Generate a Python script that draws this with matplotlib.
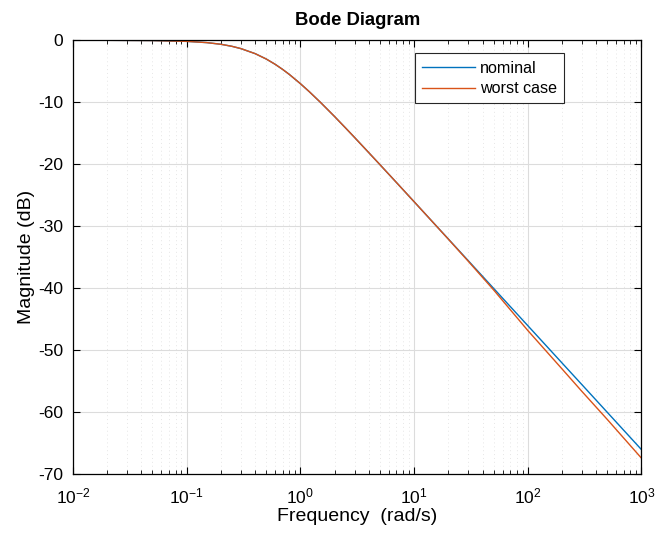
import matplotlib
matplotlib.use('Agg')
import matplotlib.pyplot as plt
from matplotlib.ticker import LogLocator, NullFormatter

# Valori (rad/s, dB)
freq = [0.01, 0.02, 0.05, 0.1, 0.15, 0.2, 0.25, 0.3, 0.4, 0.5, 0.6, 0.7, 0.8,
        1.0, 1.2, 1.5, 2.0, 2.5, 3.0, 4.0, 5.0, 7.0, 10.0, 15.0, 20.0, 30.0,
        50.0, 100.0, 200.0, 300.0, 500.0, 1000.0]
nominal = [0.0, 0.0, -0.04, -0.17, -0.37, -0.64, -0.97, -1.34, -2.15, -3.01,
           -3.87, -4.71, -5.51, -6.99, -8.30, -10.0, -12.3, -14.15, -15.68,
           -18.13, -20.04, -22.94, -26.03, -29.55, -32.04, -35.56,
           -40.0, -46.02, -52.04, -55.56, -60.0, -66.02]
worst_case = [0.0, 0.0, -0.04, -0.17, -0.37, -0.64, -0.97, -1.34, -2.15, -3.01,
              -3.87, -4.71, -5.51, -6.99, -8.30, -10.0, -12.3, -14.15, -15.68,
              -18.13, -20.04, -22.94, -26.03, -29.56, -32.07, -35.65,
              -40.25, -46.8, -53.0, -56.65, -61.15, -67.4]

xticks = [1e-2, 1e-1, 1e0, 1e1, 1e2, 1e3]
xtick_labels = ['10$^{-2}$', '10$^{-1}$', '10$^{0}$', '10$^{1}$', '10$^{2}$', '10$^{3}$']
yticks = [0, -10, -20, -30, -40, -50, -60, -70]

plt.rcParams['font.family'] = ['Liberation Sans', 'DejaVu Sans']
plt.rcParams['mathtext.fontset'] = 'custom'
plt.rcParams['mathtext.rm'] = 'Liberation Sans'
plt.rcParams['mathtext.it'] = 'Liberation Sans'
plt.rcParams['mathtext.bf'] = 'Liberation Sans:bold'
plt.rcParams['axes.unicode_minus'] = False

fig = plt.figure(figsize=(6.72, 5.36), dpi=100)
ax = fig.add_axes([0.1086, 0.1151, 0.846, 0.8097])

ax.plot(freq, nominal, color='#0072BD', lw=1.0, label='nominal')
ax.plot(freq, worst_case, color='#D95319', lw=1.0, label='worst case')

ax.set_xscale('log')
ax.set_xlim(1e-2, 1e3)
ax.set_ylim(-70, 0)
ax.set_xticks(xticks)
ax.set_xticklabels(xtick_labels)
ax.xaxis.set_minor_locator(LogLocator(base=10, subs=range(2, 10), numticks=20))
ax.xaxis.set_minor_formatter(NullFormatter())
ax.set_yticks(yticks)

ax.tick_params(which='both', direction='in', top=True, right=True,
               labelsize=12.5, colors='black')
ax.tick_params(which='major', length=5, width=0.8)
ax.tick_params(which='minor', length=3, width=0.6)
ax.tick_params(axis='x', which='major', pad=9)
ax.tick_params(axis='y', which='major', pad=7)

ax.grid(True, which='major', color='#dcdcdc', lw=0.8, ls='-')
ax.grid(True, which='minor', axis='x', color='#e6e6e6', lw=0.7, ls=(0, (1, 3)))
ax.set_axisbelow(True)
for s in ax.spines.values():
    s.set_linewidth(0.9)
    s.set_color('black')

ax.set_xlabel('Frequency  (rad/s)', fontsize=14, labelpad=1)
ax.set_ylabel('Magnitude (dB)', fontsize=14, labelpad=2)
ax.set_title('Bode Diagram', fontsize=13.3, fontweight='bold', pad=11)

leg = ax.legend(loc='upper left', bbox_to_anchor=(0.6016, 0.970), fontsize=11.6,
                fancybox=False, framealpha=1, edgecolor='#262626',
                handlelength=3.3, handletextpad=0.3, borderpad=0.45,
                labelspacing=0.35, borderaxespad=0)
leg.get_frame().set_linewidth(0.8)

plt.savefig('out.png', dpi=100)
